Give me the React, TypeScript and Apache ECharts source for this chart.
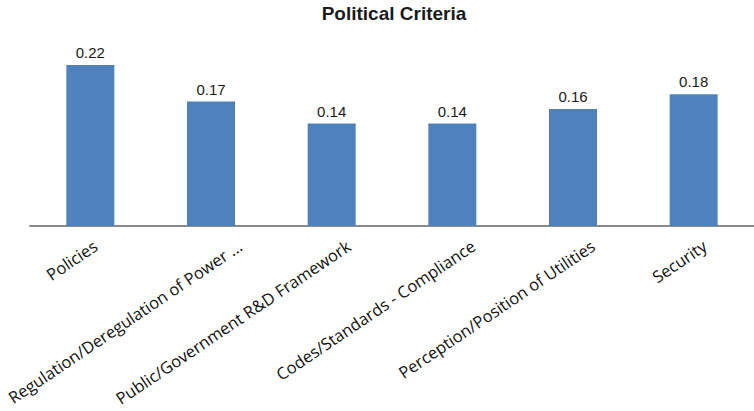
import React, { useEffect, useRef } from "react";
import * as echarts from "echarts";

const categories = [
  "Policies",
  "Regulation/Deregulation of Power ...",
  "Public/Government R&D Framework",
  "Codes/Standards - Compliance",
  "Perception/Position of Utilities",
  "Security",
];
const values = [0.22, 0.17, 0.14, 0.14, 0.16, 0.18];
const titleText = "Political Criteria";

// per-label horizontal shift of the rotated labels (px), style only
const labelShift = [5, 29, 17, 21, 20, 11];
const ROT = 34;
const LABEL_FONT = 16.5;

export default function App() {
  const ref = useRef<HTMLDivElement>(null);
  useEffect(() => {
    if (!ref.current) return;
    const chart = echarts.init(ref.current, null, { renderer: "svg" });
    const rad = (ROT * Math.PI) / 180;
    const rich: Record<string, any> = {};
    categories.forEach((_, i) => {
      const dx = labelShift[i];
      const a = dx * Math.cos(rad);
      const b = dx * Math.sin(rad);
      rich["l" + i] = {
        fontFamily: "'Open Sans', sans-serif",
        fontSize: LABEL_FONT,
        color: "#111",
        padding: [b, -a, -b, 0],
      };
    });
    chart.setOption({
      animation: false,
      title: {
        text: titleText,
        left: 394,
        textAlign: "center",
        top: 4,
        padding: 0,
        textStyle: {
          fontFamily: "'Liberation Sans', Arial, sans-serif",
          fontWeight: "bold",
          fontSize: 19,
          color: "#1a1a1a",
        },
      },
      grid: { left: 30, width: 732, top: 43, bottom: 185, containLabel: false },
      xAxis: {
        type: "category",
        data: categories,
        axisLine: { lineStyle: { color: "#8a8a8a", width: 2 } },
        axisTick: { show: false },
        axisLabel: {
          interval: 0,
          rotate: ROT,
          margin: 18,
          fontFamily: "'Open Sans', sans-serif",
          fontSize: LABEL_FONT,
          color: "#111",
          formatter: (v: string) => {
            const i = categories.indexOf(v);
            return "{l" + i + "|" + v + "}";
          },
          rich,
        },
      },
      yAxis: {
        type: "value",
        min: 0,
        max: 0.25,
        show: false,
        splitLine: { show: false },
      },
      series: [
        {
          type: "bar",
          data: values,
          barWidth: 48,
          itemStyle: { color: "#4F81BD" },
          label: {
            show: true,
            position: "top",
            distance: 5,
            fontFamily: "'Liberation Sans', Arial, sans-serif",
            fontSize: 15,
            color: "#1a1a1a",
            formatter: (p: any) => p.value.toFixed(2),
          },
        },
      ],
    });
    return () => chart.dispose();
  }, []);
  return (
    <div
      ref={ref}
      style={{ position: "absolute", left: 0, top: 0, width: 754, height: 411 }}
    />
  );
}
